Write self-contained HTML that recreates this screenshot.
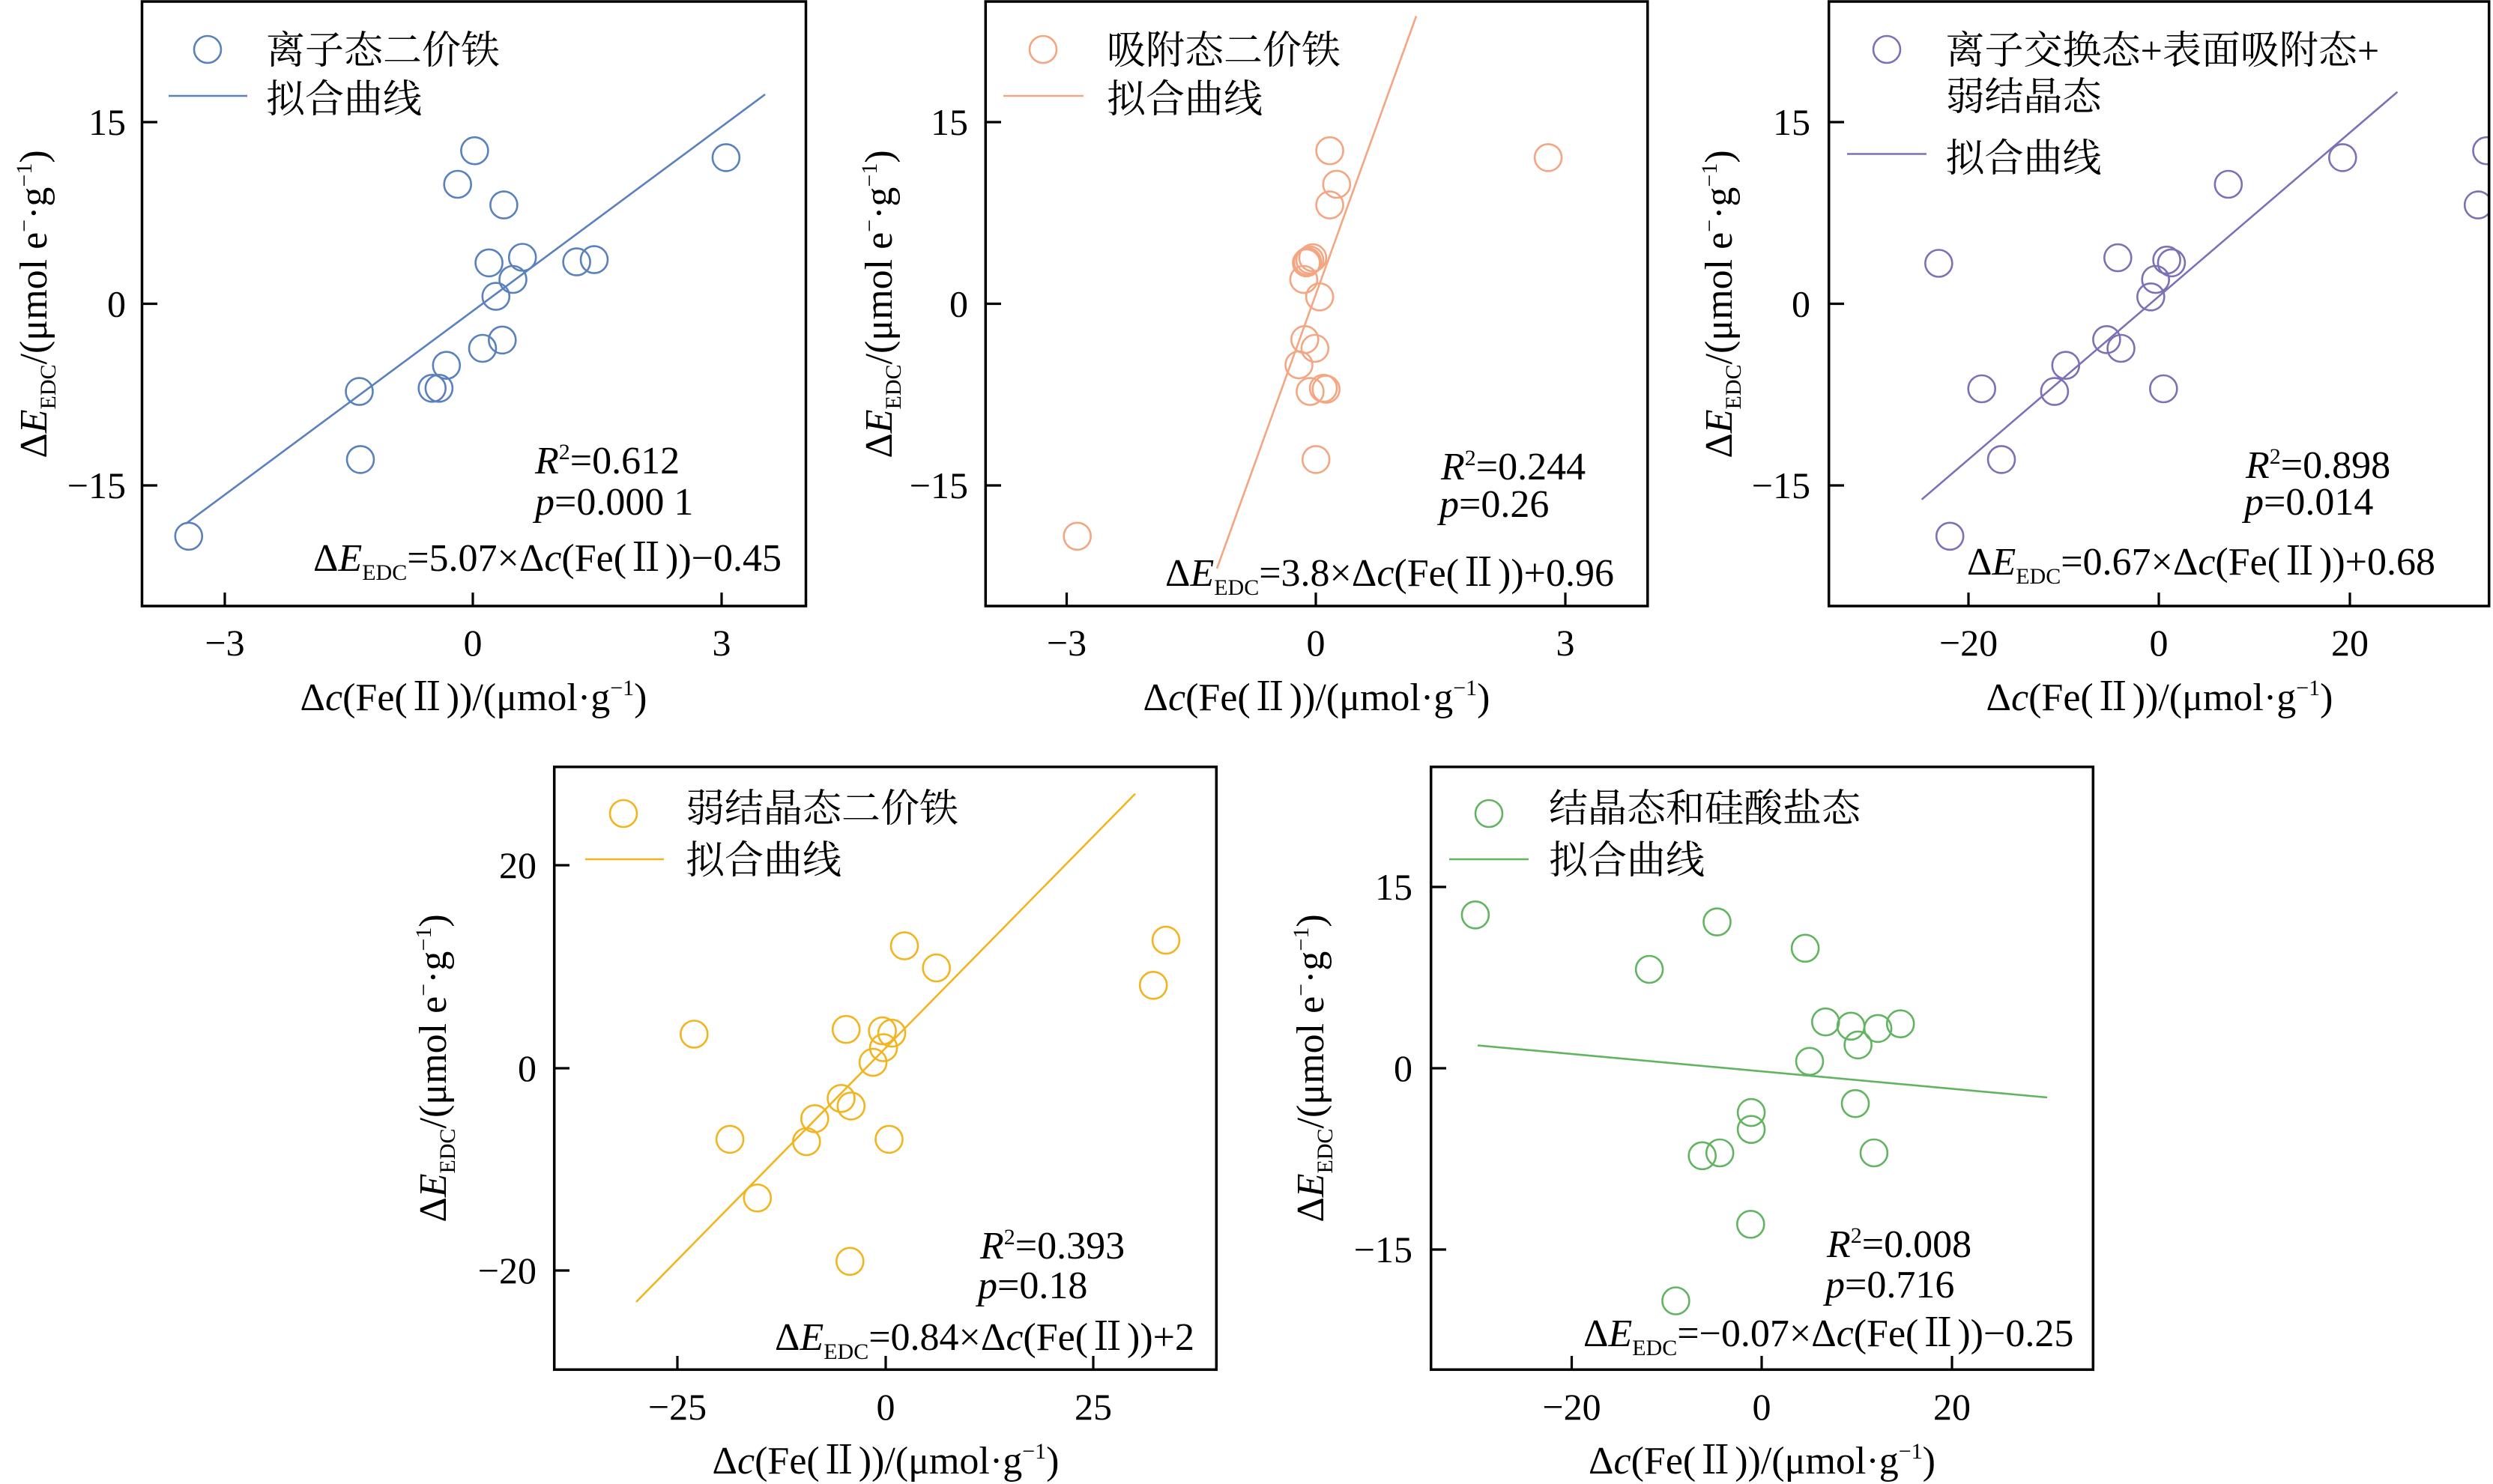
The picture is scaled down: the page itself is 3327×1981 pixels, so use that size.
<!DOCTYPE html>
<html><head><meta charset="utf-8">
<style>
html,body{margin:0;padding:0;background:#fff;}
svg{display:block;}
text{font-family:"Liberation Serif","Noto Serif CJK SC","Noto Sans CJK SC",serif;fill:#000;}
.it{font-style:italic;}
</style></head><body>
<svg width="3327" height="1981" viewBox="0 0 3327 1981" xmlns="http://www.w3.org/2000/svg">
<rect width="3327" height="1981" fill="#fff"/>
<defs>
<clipPath id="c1"><rect x="191" y="4" width="883" height="803"/></clipPath>
<clipPath id="c2"><rect x="1317" y="4" width="880" height="803"/></clipPath>
<clipPath id="c3"><rect x="2442" y="4" width="878" height="803"/></clipPath>
<clipPath id="c4"><rect x="741" y="1025" width="881" height="802"/></clipPath>
<clipPath id="c5"><rect x="1911" y="1025" width="881" height="802"/></clipPath>
</defs>

<!-- ================= PANEL 1 ================= -->
<g>
<g clip-path="url(#c1)" fill="none" stroke="#5A80BE" stroke-width="2.6">
<line x1="248" y1="699" x2="1021" y2="126"/>
<circle cx="251.8" cy="715.8" r="18"/><circle cx="481" cy="613.4" r="18"/><circle cx="479.5" cy="522.6" r="18"/>
<circle cx="576.7" cy="518.3" r="18"/><circle cx="585.9" cy="518.3" r="18"/><circle cx="595.8" cy="487.7" r="18"/>
<circle cx="644" cy="465" r="18"/><circle cx="670.3" cy="453.9" r="18"/><circle cx="661.8" cy="395.6" r="18"/>
<circle cx="684.5" cy="373" r="18"/><circle cx="652.6" cy="350.9" r="18"/><circle cx="697.2" cy="343.5" r="18"/>
<circle cx="769.6" cy="349.6" r="18"/><circle cx="793" cy="346.6" r="18"/><circle cx="672.4" cy="273.6" r="18"/>
<circle cx="610.7" cy="246" r="18"/><circle cx="633.4" cy="201.2" r="18"/><circle cx="968.9" cy="210.4" r="18"/>
</g>
<rect x="189.5" y="2" width="886" height="807" fill="none" stroke="#000" stroke-width="3.5"/>
<g stroke="#000" stroke-width="3.2">
<line x1="189.5" y1="163" x2="210" y2="163"/><line x1="189.5" y1="405.5" x2="210" y2="405.5"/><line x1="189.5" y1="648" x2="210" y2="648"/>
<line x1="300" y1="809" x2="300" y2="791"/><line x1="631" y1="809" x2="631" y2="791"/><line x1="963" y1="809" x2="963" y2="791"/>
</g>
<g font-size="50" text-anchor="end">
<text x="168" y="180">15</text><text x="168" y="422.5">0</text><text x="168" y="665">−15</text>
</g>
<g font-size="50" text-anchor="middle">
<text x="300" y="875">−3</text><text x="631" y="875">0</text><text x="963" y="875">3</text>
</g>
<circle cx="277" cy="66" r="18" fill="none" stroke="#5A80BE" stroke-width="2.6"/>
<line x1="225" y1="128" x2="330" y2="128" stroke="#5A80BE" stroke-width="2.6"/>
<text x="355" y="85" font-size="52">离子态二价铁</text>
<text x="355" y="150" font-size="52">拟合曲线</text>
<text x="714" y="632" font-size="52"><tspan class="it">R</tspan><tspan font-size="30" dy="-19">2</tspan><tspan dy="19">=0.612</tspan></text>
<text x="714" y="687" font-size="52"><tspan class="it">p</tspan>=0.000 1</text>
<text x="418" y="762" font-size="52">Δ<tspan class="it">E</tspan><tspan font-size="30" dy="12">EDC</tspan><tspan dy="-12">=5.07×Δ</tspan><tspan class="it">c</tspan>(Fe(Ⅱ))−0.45</text>
<text x="632" y="948" font-size="52" text-anchor="middle">Δ<tspan class="it">c</tspan>(Fe(Ⅱ))/(μmol·g<tspan font-size="30" dy="-20">−1</tspan><tspan dy="20">)</tspan></text>
<text transform="translate(62,406) rotate(-90)" font-size="52" text-anchor="middle">Δ<tspan class="it">E</tspan><tspan font-size="30" dy="12">EDC</tspan><tspan dy="-12">/(μmol e</tspan><tspan font-size="30" dy="-20">−</tspan><tspan dy="20">·g</tspan><tspan font-size="30" dy="-20">−1</tspan><tspan dy="20">)</tspan></text>
</g>

<!-- ================= PANEL 2 ================= -->
<g>
<g clip-path="url(#c2)" fill="none" stroke="#F4A582" stroke-width="2.6">
<line x1="1624" y1="759" x2="1890" y2="21.5"/>
<circle cx="1774.6" cy="201.2" r="18"/><circle cx="2066.1" cy="210.4" r="18"/><circle cx="1783.8" cy="246" r="18"/>
<circle cx="1774.6" cy="273.6" r="18"/><circle cx="1751.9" cy="344.1" r="18"/><circle cx="1743.4" cy="350.9" r="18"/>
<circle cx="1748" cy="347" r="18"/><circle cx="1745" cy="349" r="18"/><circle cx="1739.9" cy="373" r="18"/>
<circle cx="1761.1" cy="396.3" r="18"/><circle cx="1741.3" cy="453.3" r="18"/><circle cx="1754.8" cy="465" r="18"/>
<circle cx="1733.5" cy="487" r="18"/><circle cx="1748.4" cy="522.6" r="18"/><circle cx="1766.1" cy="518.3" r="18"/>
<circle cx="1769.7" cy="519.6" r="18"/><circle cx="1756.2" cy="613.4" r="18"/><circle cx="1437.7" cy="715.8" r="18"/>
</g>
<rect x="1315.3" y="2" width="883.5" height="807" fill="none" stroke="#000" stroke-width="3.5"/>
<g stroke="#000" stroke-width="3.2">
<line x1="1315.3" y1="163" x2="1336" y2="163"/><line x1="1315.3" y1="405.5" x2="1336" y2="405.5"/><line x1="1315.3" y1="648" x2="1336" y2="648"/>
<line x1="1423.5" y1="809" x2="1423.5" y2="791"/><line x1="1756" y1="809" x2="1756" y2="791"/><line x1="2089" y1="809" x2="2089" y2="791"/>
</g>
<g font-size="50" text-anchor="end">
<text x="1292" y="180">15</text><text x="1292" y="422.5">0</text><text x="1292" y="665">−15</text>
</g>
<g font-size="50" text-anchor="middle">
<text x="1423.5" y="875">−3</text><text x="1756" y="875">0</text><text x="2089" y="875">3</text>
</g>
<circle cx="1392" cy="66" r="18" fill="none" stroke="#F4A582" stroke-width="2.6"/>
<line x1="1339" y1="128" x2="1446" y2="128" stroke="#F4A582" stroke-width="2.6"/>
<text x="1477" y="85" font-size="52">吸附态二价铁</text>
<text x="1477" y="150" font-size="52">拟合曲线</text>
<text x="1923" y="640" font-size="52"><tspan class="it">R</tspan><tspan font-size="30" dy="-19">2</tspan><tspan dy="19">=0.244</tspan></text>
<text x="1921" y="690" font-size="52"><tspan class="it">p</tspan>=0.26</text>
<text x="1555" y="782" font-size="52">Δ<tspan class="it">E</tspan><tspan font-size="30" dy="12">EDC</tspan><tspan dy="-12">=3.8×Δ</tspan><tspan class="it">c</tspan>(Fe(Ⅱ))+0.96</text>
<text x="1757" y="948" font-size="52" text-anchor="middle">Δ<tspan class="it">c</tspan>(Fe(Ⅱ))/(μmol·g<tspan font-size="30" dy="-20">−1</tspan><tspan dy="20">)</tspan></text>
<text transform="translate(1190,406) rotate(-90)" font-size="52" text-anchor="middle">Δ<tspan class="it">E</tspan><tspan font-size="30" dy="12">EDC</tspan><tspan dy="-12">/(μmol e</tspan><tspan font-size="30" dy="-20">−</tspan><tspan dy="20">·g</tspan><tspan font-size="30" dy="-20">−1</tspan><tspan dy="20">)</tspan></text>
</g>

<!-- ================= PANEL 3 ================= -->
<g>
<g clip-path="url(#c3)" fill="none" stroke="#7B72B5" stroke-width="2.6">
<line x1="2564.6" y1="666.8" x2="3199.4" y2="122.7"/>
<circle cx="3318.5" cy="201.2" r="18"/><circle cx="3126.3" cy="210.4" r="18"/><circle cx="3307.2" cy="273.6" r="18"/>
<circle cx="2973.8" cy="246" r="18"/><circle cx="2587.3" cy="351.5" r="18"/><circle cx="2826.3" cy="344.1" r="18"/>
<circle cx="2891.6" cy="347.2" r="18"/><circle cx="2897.9" cy="350.9" r="18"/><circle cx="2876.7" cy="373" r="18"/>
<circle cx="2870.3" cy="396.3" r="18"/><circle cx="2811.4" cy="453.3" r="18"/><circle cx="2830.5" cy="465" r="18"/>
<circle cx="2756.8" cy="487.7" r="18"/><circle cx="2644.7" cy="519" r="18"/><circle cx="2741.9" cy="522.6" r="18"/>
<circle cx="2887.3" cy="519" r="18"/><circle cx="2671" cy="613.4" r="18"/><circle cx="2602.2" cy="715.8" r="18"/>
</g>
<rect x="2440.7" y="2" width="881" height="807" fill="none" stroke="#000" stroke-width="3.5"/>
<g stroke="#000" stroke-width="3.2">
<line x1="2440.7" y1="163" x2="2461" y2="163"/><line x1="2440.7" y1="405.5" x2="2461" y2="405.5"/><line x1="2440.7" y1="648" x2="2461" y2="648"/>
<line x1="2627" y1="809" x2="2627" y2="791"/><line x1="2881" y1="809" x2="2881" y2="791"/><line x1="3136" y1="809" x2="3136" y2="791"/>
</g>
<g font-size="50" text-anchor="end">
<text x="2416" y="180">15</text><text x="2416" y="422.5">0</text><text x="2416" y="665">−15</text>
</g>
<g font-size="50" text-anchor="middle">
<text x="2627" y="875">−20</text><text x="2881" y="875">0</text><text x="3136" y="875">20</text>
</g>
<circle cx="2518" cy="66" r="18" fill="none" stroke="#7B72B5" stroke-width="2.6"/>
<line x1="2465" y1="205.5" x2="2571" y2="205.5" stroke="#7B72B5" stroke-width="2.6"/>
<text x="2596.5" y="85" font-size="52">离子交换态+表面吸附态+</text>
<text x="2596.5" y="147" font-size="52">弱结晶态</text>
<text x="2596.5" y="229" font-size="52">拟合曲线</text>
<text x="2997" y="638" font-size="52"><tspan class="it">R</tspan><tspan font-size="30" dy="-19">2</tspan><tspan dy="19">=0.898</tspan></text>
<text x="2995" y="687" font-size="52"><tspan class="it">p</tspan>=0.014</text>
<text x="2625" y="767" font-size="52">Δ<tspan class="it">E</tspan><tspan font-size="30" dy="12">EDC</tspan><tspan dy="-12">=0.67×Δ</tspan><tspan class="it">c</tspan>(Fe(Ⅱ))+0.68</text>
<text x="2882" y="948" font-size="52" text-anchor="middle">Δ<tspan class="it">c</tspan>(Fe(Ⅱ))/(μmol·g<tspan font-size="30" dy="-20">−1</tspan><tspan dy="20">)</tspan></text>
<text transform="translate(2311,406) rotate(-90)" font-size="52" text-anchor="middle">Δ<tspan class="it">E</tspan><tspan font-size="30" dy="12">EDC</tspan><tspan dy="-12">/(μmol e</tspan><tspan font-size="30" dy="-20">−</tspan><tspan dy="20">·g</tspan><tspan font-size="30" dy="-20">−1</tspan><tspan dy="20">)</tspan></text>
</g>

<!-- ================= PANEL 4 ================= -->
<g>
<g clip-path="url(#c4)" fill="none" stroke="#F2B41F" stroke-width="2.6">
<line x1="849" y1="1738" x2="1515" y2="1059.5"/>
<circle cx="1556" cy="1255.1" r="18"/><circle cx="1539.2" cy="1315.3" r="18"/><circle cx="1207" cy="1262.6" r="18"/>
<circle cx="1249.7" cy="1292.1" r="18"/><circle cx="926.3" cy="1380.5" r="18"/><circle cx="1129.2" cy="1374.2" r="18"/>
<circle cx="1177.6" cy="1376.1" r="18"/><circle cx="1190.1" cy="1379.2" r="18"/><circle cx="1179.1" cy="1398.6" r="18"/>
<circle cx="1165.1" cy="1418.1" r="18"/><circle cx="1122.5" cy="1466.3" r="18"/><circle cx="1135.8" cy="1476.4" r="18"/>
<circle cx="1087.3" cy="1493.3" r="18"/><circle cx="974.1" cy="1520.9" r="18"/><circle cx="1076.3" cy="1524" r="18"/>
<circle cx="1186.5" cy="1520.9" r="18"/><circle cx="1010.8" cy="1599.2" r="18"/><circle cx="1134.3" cy="1683.8" r="18"/>
</g>
<rect x="739.7" y="1023.7" width="883.6" height="804.6" fill="none" stroke="#000" stroke-width="3.5"/>
<g stroke="#000" stroke-width="3.2">
<line x1="739.7" y1="1155" x2="760" y2="1155"/><line x1="739.7" y1="1426" x2="760" y2="1426"/><line x1="739.7" y1="1696" x2="760" y2="1696"/>
<line x1="904" y1="1828.3" x2="904" y2="1810"/><line x1="1182" y1="1828.3" x2="1182" y2="1810"/><line x1="1459" y1="1828.3" x2="1459" y2="1810"/>
</g>
<g font-size="50" text-anchor="end">
<text x="716" y="1172">20</text><text x="716" y="1443">0</text><text x="716" y="1713">−20</text>
</g>
<g font-size="50" text-anchor="middle">
<text x="904" y="1895">−25</text><text x="1182" y="1895">0</text><text x="1459" y="1895">25</text>
</g>
<circle cx="832" cy="1086" r="18" fill="none" stroke="#F2B41F" stroke-width="2.6"/>
<line x1="781" y1="1147" x2="886" y2="1147" stroke="#F2B41F" stroke-width="2.6"/>
<text x="915" y="1097" font-size="52">弱结晶态二价铁</text>
<text x="915" y="1166" font-size="52">拟合曲线</text>
<text x="1308" y="1680" font-size="52"><tspan class="it">R</tspan><tspan font-size="30" dy="-19">2</tspan><tspan dy="19">=0.393</tspan></text>
<text x="1305" y="1733" font-size="52"><tspan class="it">p</tspan>=0.18</text>
<text x="1034" y="1802" font-size="52">Δ<tspan class="it">E</tspan><tspan font-size="30" dy="12">EDC</tspan><tspan dy="-12">=0.84×Δ</tspan><tspan class="it">c</tspan>(Fe(Ⅱ))+2</text>
<text x="1182" y="1967" font-size="52" text-anchor="middle">Δ<tspan class="it">c</tspan>(Fe(Ⅱ))/(μmol·g<tspan font-size="30" dy="-20">−1</tspan><tspan dy="20">)</tspan></text>
<text transform="translate(595,1426) rotate(-90)" font-size="52" text-anchor="middle">Δ<tspan class="it">E</tspan><tspan font-size="30" dy="12">EDC</tspan><tspan dy="-12">/(μmol e</tspan><tspan font-size="30" dy="-20">−</tspan><tspan dy="20">·g</tspan><tspan font-size="30" dy="-20">−1</tspan><tspan dy="20">)</tspan></text>
</g>

<!-- ================= PANEL 5 ================= -->
<g>
<g clip-path="url(#c5)" fill="none" stroke="#62B462" stroke-width="2.6">
<line x1="1972" y1="1395.5" x2="2732" y2="1465"/>
<circle cx="1968.9" cy="1221.3" r="18"/><circle cx="2291.5" cy="1230.7" r="18"/><circle cx="2409.1" cy="1265.8" r="18"/>
<circle cx="2201.1" cy="1294" r="18"/><circle cx="2436.3" cy="1364.2" r="18"/><circle cx="2470.1" cy="1369.8" r="18"/>
<circle cx="2506.1" cy="1372.9" r="18"/><circle cx="2536.2" cy="1366.7" r="18"/><circle cx="2479.6" cy="1394.9" r="18"/>
<circle cx="2415" cy="1416.8" r="18"/><circle cx="2476" cy="1473.2" r="18"/><circle cx="2337.1" cy="1485.1" r="18"/>
<circle cx="2337.1" cy="1507.7" r="18"/><circle cx="2295.2" cy="1539" r="18"/><circle cx="2271.7" cy="1542.8" r="18"/>
<circle cx="2500.9" cy="1539" r="18"/><circle cx="2336.3" cy="1634.3" r="18"/><circle cx="2236.4" cy="1736.5" r="18"/>
</g>
<rect x="1909.7" y="1023.7" width="883.6" height="804.6" fill="none" stroke="#000" stroke-width="3.5"/>
<g stroke="#000" stroke-width="3.2">
<line x1="1909.7" y1="1184" x2="1930" y2="1184"/><line x1="1909.7" y1="1426" x2="1930" y2="1426"/><line x1="1909.7" y1="1668" x2="1930" y2="1668"/>
<line x1="2097.5" y1="1828.3" x2="2097.5" y2="1810"/><line x1="2351" y1="1828.3" x2="2351" y2="1810"/><line x1="2605" y1="1828.3" x2="2605" y2="1810"/>
</g>
<g font-size="50" text-anchor="end">
<text x="1885" y="1201">15</text><text x="1885" y="1443">0</text><text x="1885" y="1685">−15</text>
</g>
<g font-size="50" text-anchor="middle">
<text x="2097.5" y="1895">−20</text><text x="2351" y="1895">0</text><text x="2605" y="1895">20</text>
</g>
<circle cx="1987" cy="1086" r="18" fill="none" stroke="#62B462" stroke-width="2.6"/>
<line x1="1934" y1="1147" x2="2040" y2="1147" stroke="#62B462" stroke-width="2.6"/>
<text x="2067" y="1097" font-size="52">结晶态和硅酸盐态</text>
<text x="2067" y="1166" font-size="52">拟合曲线</text>
<text x="2438" y="1678" font-size="52"><tspan class="it">R</tspan><tspan font-size="30" dy="-19">2</tspan><tspan dy="19">=0.008</tspan></text>
<text x="2436" y="1732" font-size="52"><tspan class="it">p</tspan>=0.716</text>
<text x="2113" y="1797" font-size="52">Δ<tspan class="it">E</tspan><tspan font-size="30" dy="12">EDC</tspan><tspan dy="-12">=−0.07×Δ</tspan><tspan class="it">c</tspan>(Fe(Ⅱ))−0.25</text>
<text x="2351.5" y="1967" font-size="52" text-anchor="middle">Δ<tspan class="it">c</tspan>(Fe(Ⅱ))/(μmol·g<tspan font-size="30" dy="-20">−1</tspan><tspan dy="20">)</tspan></text>
<text transform="translate(1766,1426) rotate(-90)" font-size="52" text-anchor="middle">Δ<tspan class="it">E</tspan><tspan font-size="30" dy="12">EDC</tspan><tspan dy="-12">/(μmol e</tspan><tspan font-size="30" dy="-20">−</tspan><tspan dy="20">·g</tspan><tspan font-size="30" dy="-20">−1</tspan><tspan dy="20">)</tspan></text>
</g>
</svg>
</body></html>
